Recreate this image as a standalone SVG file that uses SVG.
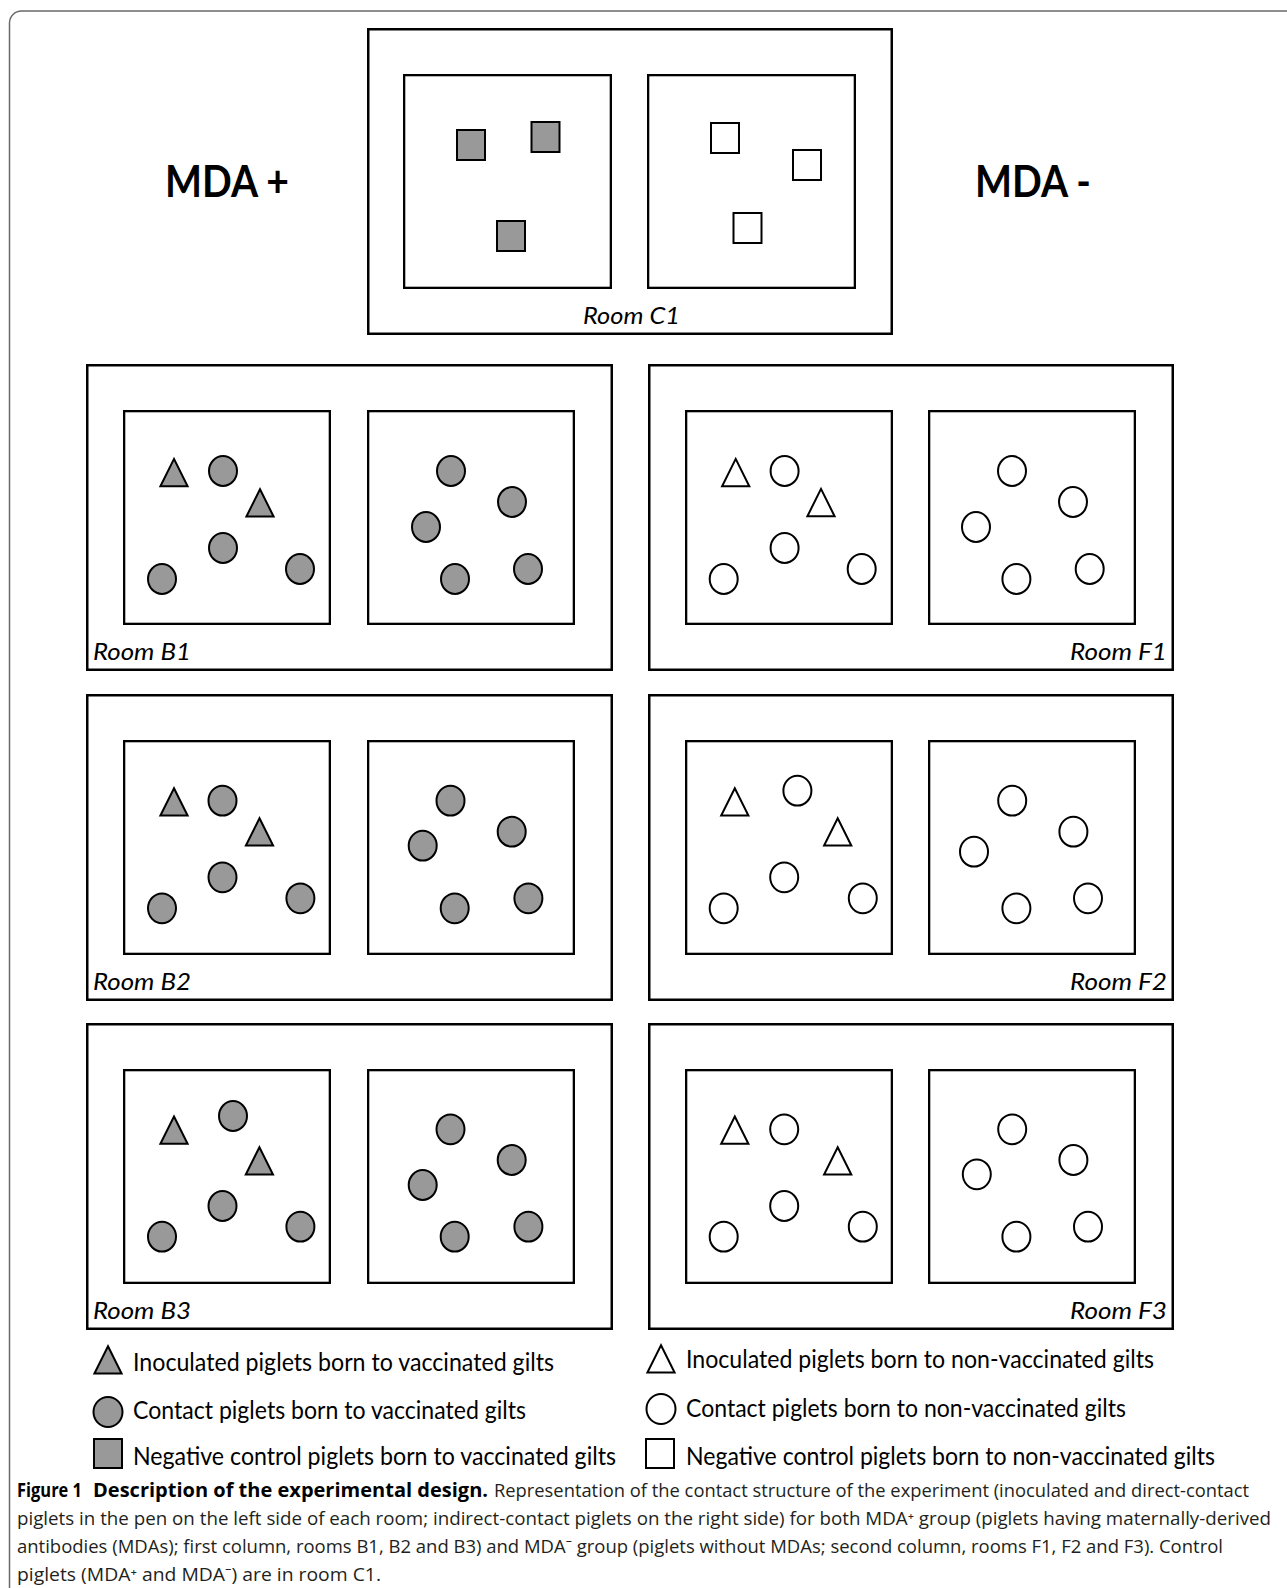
<svg xmlns="http://www.w3.org/2000/svg" xmlns:xlink="http://www.w3.org/1999/xlink" width="1287" height="1588" viewBox="0 0 1287 1588">
<style>
.frame{fill:none;stroke:#6a6a6a;stroke-width:1.5}
.room{fill:none;stroke:#000;stroke-width:2.5}
.pen{fill:#fff;stroke:#000;stroke-width:2.3}
.g{fill:#999;stroke:#000;stroke-width:2;stroke-linejoin:miter}
.w{fill:#fff;stroke:#000;stroke-width:2;stroke-linejoin:miter}
.lbl{font-family:Lato,"Open Sans","Liberation Sans",sans-serif;font-style:italic;font-size:24px;fill:#000}
.mda{font-family:Lato,"Open Sans","Liberation Sans",sans-serif;font-weight:bold;font-size:44px;fill:#000}
.leg{font-family:Lato,"Open Sans","Liberation Sans",sans-serif;font-size:25px;fill:#000}
.cap{font-family:"Open Sans","Noto Sans","DejaVu Sans",sans-serif;font-size:19px;fill:#231f20}
.capb{font-family:"Open Sans","Noto Sans","DejaVu Sans",sans-serif;font-size:19px;font-weight:bold;fill:#000}
</style>
<defs>
<path id="tri" d="M0,2.2 L13.6,29.5 L-13.6,29.5 Z"/>
</defs>
<rect width="1287" height="1588" fill="#fff"/>
<path class="frame" d="M9.5,1590 V23 A12,12 0 0 1 21.5,11 H1290"/>

<g id="label-mda-plus"><text class="mda" x="165" y="197" textLength="124" lengthAdjust="spacingAndGlyphs">MDA +</text></g>
<g id="label-mda-minus"><text class="mda" x="975" y="197" textLength="116" lengthAdjust="spacingAndGlyphs">MDA -</text></g>

<g id="room-C1">
<rect class="room" x="368.25" y="29.25" width="523.5" height="304.5"/>
<rect class="pen" x="404.15" y="75.15" width="206.7" height="212.7"/>
<rect class="pen" x="648.15" y="75.15" width="206.7" height="212.7"/>
<rect class="g" x="457" y="130" width="28" height="30"/>
<rect class="g" x="531.5" y="122" width="28" height="30"/>
<rect class="g" x="497" y="221" width="28" height="30"/>
<rect class="w" x="711" y="123" width="28" height="30"/>
<rect class="w" x="793" y="150" width="28" height="30"/>
<rect class="w" x="733.5" y="213" width="28" height="30"/>
<text class="lbl" x="583" y="324" textLength="97" lengthAdjust="spacingAndGlyphs">Room C1</text>
</g>

<g id="room-B1">
<rect class="room" x="87.25" y="365.25" width="524.5" height="304.5"/>
<rect class="pen" x="124.15" y="411.15" width="205.7" height="212.7"/>
<rect class="pen" x="368.15" y="411.15" width="205.7" height="212.7"/>
<use xlink:href="#tri" class="g" x="174" y="456.7"/>
<use xlink:href="#tri" class="g" x="260" y="487"/>
<ellipse class="g" cx="223" cy="471" rx="14" ry="14.9"/>
<ellipse class="g" cx="223" cy="548" rx="14" ry="14.9"/>
<ellipse class="g" cx="162" cy="579" rx="14" ry="14.9"/>
<ellipse class="g" cx="300" cy="569" rx="14" ry="14.9"/>
<ellipse class="g" cx="451" cy="471" rx="14" ry="14.9"/>
<ellipse class="g" cx="512" cy="502" rx="14" ry="14.9"/>
<ellipse class="g" cx="426" cy="527" rx="14" ry="14.9"/>
<ellipse class="g" cx="455" cy="579" rx="14" ry="14.9"/>
<ellipse class="g" cx="528" cy="569" rx="14" ry="14.9"/>
<text class="lbl" x="93" y="660" textLength="98" lengthAdjust="spacingAndGlyphs">Room B1</text>
</g>

<g id="room-F1">
<rect class="room" x="649.25" y="365.25" width="523.5" height="304.5"/>
<rect class="pen" x="686.15" y="411.15" width="205.7" height="212.7"/>
<rect class="pen" x="929.15" y="411.15" width="205.7" height="212.7"/>
<use xlink:href="#tri" class="w" x="735.7" y="456.7"/>
<use xlink:href="#tri" class="w" x="821" y="486.7"/>
<ellipse class="w" cx="784.6" cy="471" rx="14" ry="14.9"/>
<ellipse class="w" cx="784.6" cy="548" rx="14" ry="14.9"/>
<ellipse class="w" cx="723.7" cy="579" rx="14" ry="14.9"/>
<ellipse class="w" cx="861.7" cy="569" rx="14" ry="14.9"/>
<ellipse class="w" cx="1012" cy="471" rx="14" ry="14.9"/>
<ellipse class="w" cx="1073" cy="502" rx="14" ry="14.9"/>
<ellipse class="w" cx="976" cy="527" rx="14" ry="14.9"/>
<ellipse class="w" cx="1016.4" cy="579" rx="14" ry="14.9"/>
<ellipse class="w" cx="1089.7" cy="569" rx="14" ry="14.9"/>
<text class="lbl" x="1167" y="660" text-anchor="end" textLength="97" lengthAdjust="spacingAndGlyphs">Room F1</text>
</g>

<g id="room-B2">
<rect class="room" x="87.25" y="695.25" width="524.5" height="304.5"/>
<rect class="pen" x="124.15" y="741.15" width="205.7" height="212.7"/>
<rect class="pen" x="368.15" y="741.15" width="205.7" height="212.7"/>
<use xlink:href="#tri" class="g" x="174" y="786"/>
<use xlink:href="#tri" class="g" x="259.5" y="816"/>
<ellipse class="g" cx="222.5" cy="800.7" rx="14" ry="14.9"/>
<ellipse class="g" cx="222.5" cy="877.3" rx="14" ry="14.9"/>
<ellipse class="g" cx="162" cy="908.3" rx="14" ry="14.9"/>
<ellipse class="g" cx="300.4" cy="898.3" rx="14" ry="14.9"/>
<ellipse class="g" cx="450.5" cy="800.7" rx="14" ry="14.9"/>
<ellipse class="g" cx="511.7" cy="831.7" rx="14" ry="14.9"/>
<ellipse class="g" cx="422.7" cy="845.7" rx="14" ry="14.9"/>
<ellipse class="g" cx="454.7" cy="908.3" rx="14" ry="14.9"/>
<ellipse class="g" cx="528.4" cy="898.3" rx="14" ry="14.9"/>
<text class="lbl" x="93" y="990" textLength="98" lengthAdjust="spacingAndGlyphs">Room B2</text>
</g>

<g id="room-F2">
<rect class="room" x="649.25" y="695.25" width="523.5" height="304.5"/>
<rect class="pen" x="686.15" y="741.15" width="205.7" height="212.7"/>
<rect class="pen" x="929.15" y="741.15" width="205.7" height="212.7"/>
<use xlink:href="#tri" class="w" x="734.8" y="786"/>
<use xlink:href="#tri" class="w" x="837.7" y="816"/>
<ellipse class="w" cx="797.4" cy="790.7" rx="14" ry="14.9"/>
<ellipse class="w" cx="784.2" cy="877.3" rx="14" ry="14.9"/>
<ellipse class="w" cx="723.7" cy="908.3" rx="14" ry="14.9"/>
<ellipse class="w" cx="862.8" cy="898.3" rx="14" ry="14.9"/>
<ellipse class="w" cx="1012.2" cy="800.7" rx="14" ry="14.9"/>
<ellipse class="w" cx="1073.4" cy="831.7" rx="14" ry="14.9"/>
<ellipse class="w" cx="974" cy="851.7" rx="14" ry="14.9"/>
<ellipse class="w" cx="1016.4" cy="908.3" rx="14" ry="14.9"/>
<ellipse class="w" cx="1088" cy="898.3" rx="14" ry="14.9"/>
<text class="lbl" x="1167" y="990" text-anchor="end" textLength="97" lengthAdjust="spacingAndGlyphs">Room F2</text>
</g>

<g id="room-B3">
<rect class="room" x="87.25" y="1024.25" width="524.5" height="304.5"/>
<rect class="pen" x="124.15" y="1070.15" width="205.7" height="212.7"/>
<rect class="pen" x="368.15" y="1070.15" width="205.7" height="212.7"/>
<use xlink:href="#tri" class="g" x="174" y="1114.3"/>
<use xlink:href="#tri" class="g" x="259.4" y="1145"/>
<ellipse class="g" cx="233" cy="1116" rx="14" ry="14.9"/>
<ellipse class="g" cx="222.5" cy="1206" rx="14" ry="14.9"/>
<ellipse class="g" cx="162" cy="1236.7" rx="14" ry="14.9"/>
<ellipse class="g" cx="300.4" cy="1226.7" rx="14" ry="14.9"/>
<ellipse class="g" cx="450.5" cy="1129.3" rx="14" ry="14.9"/>
<ellipse class="g" cx="511.7" cy="1160" rx="14" ry="14.9"/>
<ellipse class="g" cx="422.7" cy="1185" rx="14" ry="14.9"/>
<ellipse class="g" cx="454.7" cy="1236.7" rx="14" ry="14.9"/>
<ellipse class="g" cx="528.4" cy="1226.7" rx="14" ry="14.9"/>
<text class="lbl" x="93" y="1319" textLength="98" lengthAdjust="spacingAndGlyphs">Room B3</text>
</g>

<g id="room-F3">
<rect class="room" x="649.25" y="1024.25" width="523.5" height="304.5"/>
<rect class="pen" x="686.15" y="1070.15" width="205.7" height="212.7"/>
<rect class="pen" x="929.15" y="1070.15" width="205.7" height="212.7"/>
<use xlink:href="#tri" class="w" x="734.8" y="1114.3"/>
<use xlink:href="#tri" class="w" x="837.7" y="1145"/>
<ellipse class="w" cx="784.2" cy="1129.3" rx="14" ry="14.9"/>
<ellipse class="w" cx="784.2" cy="1206" rx="14" ry="14.9"/>
<ellipse class="w" cx="723.7" cy="1236.7" rx="14" ry="14.9"/>
<ellipse class="w" cx="862.8" cy="1226.7" rx="14" ry="14.9"/>
<ellipse class="w" cx="1012.2" cy="1129.3" rx="14" ry="14.9"/>
<ellipse class="w" cx="1073.4" cy="1160" rx="14" ry="14.9"/>
<ellipse class="w" cx="976.8" cy="1174.3" rx="14" ry="14.9"/>
<ellipse class="w" cx="1016.4" cy="1236.7" rx="14" ry="14.9"/>
<ellipse class="w" cx="1088" cy="1226.7" rx="14" ry="14.9"/>
<text class="lbl" x="1167" y="1319" text-anchor="end" textLength="97" lengthAdjust="spacingAndGlyphs">Room F3</text>
</g>

<g id="legend">
<use xlink:href="#tri" class="g" x="108" y="1344"/>
<text class="leg" x="133" y="1371" textLength="421" lengthAdjust="spacingAndGlyphs">Inoculated piglets born to vaccinated gilts</text>
<ellipse class="g" cx="108" cy="1412" rx="14.5" ry="15"/>
<text class="leg" x="133" y="1419" textLength="393" lengthAdjust="spacingAndGlyphs">Contact piglets born to vaccinated gilts</text>
<rect class="g" x="94" y="1439" width="28" height="29"/>
<text class="leg" x="133" y="1465" textLength="483" lengthAdjust="spacingAndGlyphs">Negative control piglets born to vaccinated gilts</text>
<use xlink:href="#tri" class="w" x="661" y="1343"/>
<text class="leg" x="686" y="1368" textLength="468" lengthAdjust="spacingAndGlyphs">Inoculated piglets born to non-vaccinated gilts</text>
<ellipse class="w" cx="661" cy="1409" rx="14.5" ry="15"/>
<text class="leg" x="686" y="1416.5" textLength="440" lengthAdjust="spacingAndGlyphs">Contact piglets born to non-vaccinated gilts</text>
<rect class="w" x="646" y="1439" width="28" height="29"/>
<text class="leg" x="686" y="1464.5" textLength="529" lengthAdjust="spacingAndGlyphs">Negative control piglets born to non-vaccinated gilts</text>
</g>

<g id="caption">
<text class="capb" x="17" y="1497" textLength="65" lengthAdjust="spacingAndGlyphs">Figure 1</text>
<text class="capb" x="93" y="1497" textLength="395" lengthAdjust="spacingAndGlyphs">Description of the experimental design.</text>
<text class="cap" x="494" y="1497" textLength="755" lengthAdjust="spacingAndGlyphs">Representation of the contact structure of the experiment (inoculated and direct-contact</text>
<text class="cap" x="17" y="1525" textLength="1254" lengthAdjust="spacingAndGlyphs">piglets in the pen on the left side of each room; indirect-contact piglets on the right side) for both MDA⁺ group (piglets having maternally-derived</text>
<text class="cap" x="17" y="1553" textLength="1206" lengthAdjust="spacingAndGlyphs">antibodies (MDAs); first column, rooms B1, B2 and B3) and MDA⁻ group (piglets without MDAs; second column, rooms F1, F2 and F3). Control</text>
<text class="cap" x="17" y="1581" textLength="364" lengthAdjust="spacingAndGlyphs">piglets (MDA⁺ and MDA⁻) are in room C1.</text>
</g>
</svg>
